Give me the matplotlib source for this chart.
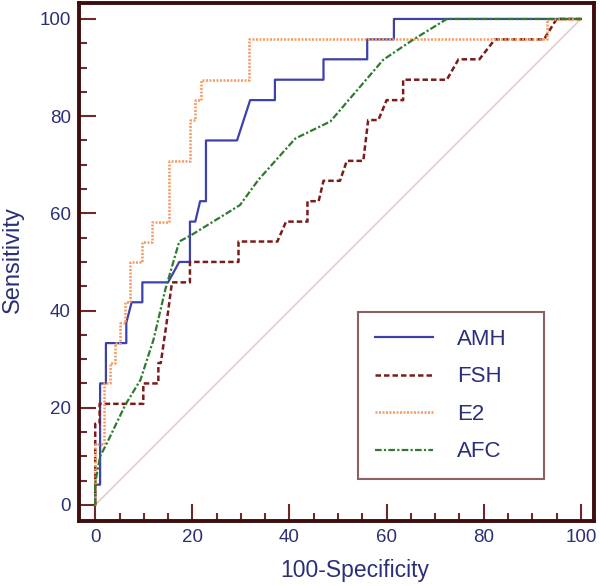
import matplotlib
matplotlib.use("Agg")
import matplotlib.pyplot as plt
from matplotlib.ticker import MultipleLocator

# ROC curves (x = 100-Specificity, y = Sensitivity)
amh_x = [0, 0, 1, 1, 2.2, 2.2, 6.4, 6.4, 7.5, 9.7, 9.7, 15, 17.3, 19.5, 19.5, 20.6, 21.6, 22.8, 22.8,
         29.2, 31.9, 37, 37, 47, 47, 56, 56, 61.5, 61.5, 100]
amh_y = [0, 4.17, 4.17, 25, 25, 33.3, 33.3, 37.5, 41.7, 41.7, 45.8, 45.8, 50, 50, 58.3, 58.3, 62.5, 62.5, 75,
         75, 83.3, 83.3, 87.5, 87.5, 91.7, 91.7, 95.8, 95.8, 100, 100]

fsh_x = [0, 0, 0.9, 0.9, 9.9, 9.9, 13, 13, 13.5, 14.7, 15.8, 19.5, 19.5, 29.5, 29.5, 37.5, 39.3, 43.7, 43.7,
         46, 47, 50.4, 51.8, 55.2, 56.2, 58.3, 60, 63.4, 63.4, 72.4, 74.8, 79.1, 82.3, 92.4, 95, 100]
fsh_y = [0, 16.7, 16.7, 20.8, 20.8, 25, 25, 29.2, 29.2, 37.5, 45.8, 45.8, 50, 50, 54.2, 54.2, 58.3, 58.3, 62.5,
         62.5, 66.7, 66.7, 70.8, 70.8, 79.2, 79.2, 83.3, 83.3, 87.5, 87.5, 91.7, 91.7, 95.8, 95.8, 100, 100]

e2_x = [0, 0, 1.8, 1.8, 3.1, 3.1, 4.1, 4.1, 5.1, 5.1, 6.2, 6.2, 7.2, 7.2, 9.7, 9.7, 11.7, 11.7, 15.2, 15.2,
        19.5, 19.5, 20.6, 20.6, 21.7, 21.7, 31.7, 31.7, 93, 93, 100]
e2_y = [0, 12.5, 12.5, 25, 25, 29.2, 29.2, 33.3, 33.3, 37.5, 37.5, 41.7, 41.7, 50, 50, 54.2, 54.2, 58.3, 58.3, 70.8,
        70.8, 79.2, 79.2, 83.3, 83.3, 87.5, 87.5, 95.8, 95.8, 100, 100]

afc_x = [0, 0, 1, 2.4, 6.2, 9.3, 12, 14.4, 17.3, 19.9, 29.8, 33.6, 41.2, 48.4, 59.3, 65.4, 72.4, 100]
afc_y = [0, 4.5, 10, 12.7, 20.6, 25.7, 34, 44.2, 54.2, 55.6, 61.7, 66.9, 75.4, 78.9, 91.6, 95.7, 100, 100]

diag = [0, 100]
x_ticks = [0, 20, 40, 60, 80, 100]
y_ticks = [0, 20, 40, 60, 80, 100]

text_c = "#2b2f78"
frame_c = "#3e0d0d"
tick_c = "#6e2a2a"

plt.rcParams['font.family'] = ['Liberation Sans', 'DejaVu Sans']

fig = plt.figure(figsize=(6.0, 5.86), dpi=100)
ax = fig.add_axes([0.132, 0.111, 0.858, 0.884])

ax.plot(diag, diag, color="#e2cccc", lw=1.2, zorder=1)
ax.plot(amh_x, amh_y, color="#3c42aa", lw=1.6, ls="-", label="AMH", zorder=3)
ax.plot(fsh_x, fsh_y, color="#7a1c1c", lw=1.8, ls=(0, (2.2, 1.2)), label="FSH", zorder=3)
ax.plot(e2_x, e2_y, color="#f59a60", lw=1.8, ls=(0, (0.8, 0.6)), label="E2", zorder=3)
ax.plot(afc_x, afc_y, color="#2e7a2e", lw=1.6, ls=(0, (3, 1, 1, 1)), label="AFC", zorder=3)

ax.set_xlim(-3.3, 102.7)
ax.set_ylim(-3.3, 103.3)
ax.set_xticks(x_ticks)
ax.set_yticks(y_ticks)
ax.xaxis.set_minor_locator(MultipleLocator(5))
ax.yaxis.set_minor_locator(MultipleLocator(5))
ax.tick_params(which="major", direction="in", length=12, width=1.5, color=tick_c,
               labelsize=13.5, labelcolor=text_c, pad=6, top=False, right=False)
ax.tick_params(which="minor", direction="in", length=6, width=1.5, color=tick_c,
               top=False, right=False)

for s in ax.spines.values():
    s.set_color(frame_c)
    s.set_linewidth(2.8)

ax.set_xlabel("100-Specificity", fontsize=16.5, color=text_c)
ax.xaxis.set_label_coords(0.536, -0.074)
ax.set_ylabel("Sensitivity", fontsize=17, color=text_c)
ax.yaxis.set_label_coords(-0.108, 0.504)

leg = ax.legend(loc="lower left", bbox_to_anchor=(0.542, 0.081, 0.361, 0.317), mode="expand",
                fontsize=16, frameon=True, fancybox=False, handlelength=2.6, handletextpad=1.1,
                labelspacing=0.74, borderpad=0.75, borderaxespad=0)
leg.get_frame().set_edgecolor("#6e3a3a")
leg.get_frame().set_linewidth(1.5)
for t in leg.get_texts():
    t.set_color(text_c)

fig.savefig("out.png", dpi=100)
